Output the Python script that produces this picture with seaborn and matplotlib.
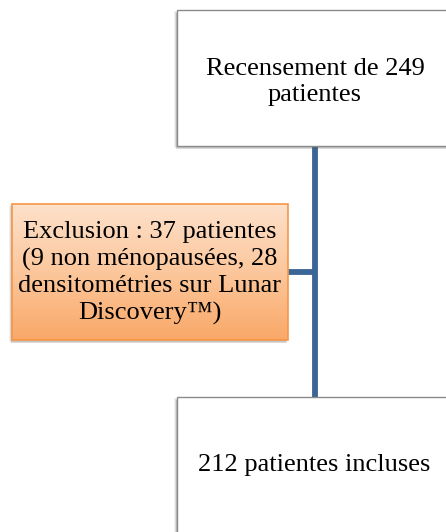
import numpy as np
import seaborn as sns
from matplotlib import pyplot as plt
from matplotlib.patches import Rectangle
from matplotlib.colors import LinearSegmentedColormap

# flowchart content
box_labels = ['Recensement de 249\npatientes',
              'Exclusion : 37 patientes\n(9 non ménopausées, 28\ndensitométries sur Lunar\nDiscovery™)',
              '212 patientes incluses']
counts = [249, 37, 212]  # total, excluded, included

sns.set_style('white')
plt.rcParams['font.family'] = ['Liberation Serif', 'DejaVu Serif']
plt.rcParams['text.color'] = 'black'

fig = plt.figure(figsize=(4.46, 5.32), dpi=100)
ax = fig.add_axes([0, 0, 1, 1])
ax.set_xlim(0, 446)
ax.set_ylim(532, 0)
ax.axis('off')

line_col = '#3b6597'
fs = 19

def shadow(x, y, w, h):
    for i, a in enumerate([0.08, 0.14, 0.22]):
        ax.add_patch(Rectangle((x - 3 + i, y + 1 + i), w, h, fc='#555555', ec='none', alpha=a, zorder=2))

# connectors
ax.plot([315, 315], [146, 398], color=line_col, lw=4.2, solid_capstyle='butt', zorder=1)
ax.plot([288, 315], [272, 272], color=line_col, lw=4.2, solid_capstyle='butt', zorder=1)

# top box
shadow(177, 10, 276, 136)
ax.add_patch(Rectangle((177, 10), 276, 136, fc='white', ec='#8a8a8a', lw=1.0, zorder=3))
ax.text(315, 82, box_labels[0], ha='center', va='center', fontsize=fs, linespacing=1.25, zorder=4)

# exclusion box with orange gradient
shadow(12, 204, 276, 136)
cmap = LinearSegmentedColormap.from_list('og', ['#fde1cb', '#fcc79c', '#f9a868'])
grad = np.linspace(0, 1, 256).reshape(-1, 1)
im = ax.imshow(grad, cmap=cmap, extent=(12, 288, 340, 204), aspect='auto', zorder=3)
frame = Rectangle((12, 204), 276, 136, fc='none', ec='#f79646', lw=1.2, zorder=4)
ax.add_patch(frame)
im.set_clip_path(frame)
ax.text(150, 273, box_labels[1], ha='center', va='center', fontsize=fs, linespacing=1.25, zorder=5)

# bottom box
shadow(177, 397, 276, 150)
ax.add_patch(Rectangle((177, 397), 276, 150, fc='white', ec='#8a8a8a', lw=1.0, zorder=3))
ax.text(314, 465, box_labels[2], ha='center', va='center', fontsize=fs, zorder=4)

ax.set_xlim(0, 446)
ax.set_ylim(532, 0)
fig.savefig('out.png', dpi=100)
